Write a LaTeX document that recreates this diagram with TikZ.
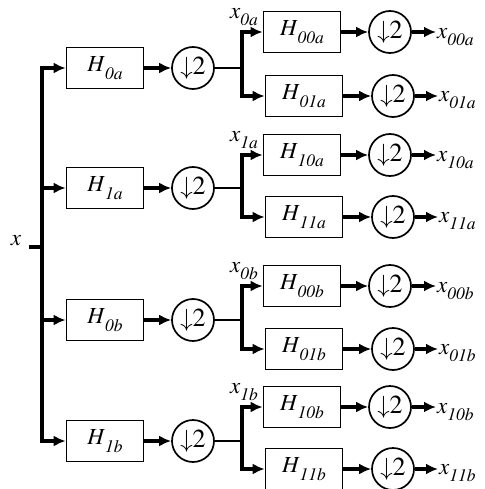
\documentclass[tikz,border=0pt]{standalone}
\usepackage{fontspec}
\setmainfont{texgyretermes}[Extension=.otf,UprightFont=*-regular,ItalicFont=*-italic,BoldFont=*-bold,BoldItalicFont=*-bolditalic]
\usetikzlibrary{arrows.meta}
\newcommand{\sig}[2]{\textit{#1}\raisebox{-7.5pt}{\fontsize{17.5}{18}\selectfont\itshape #2}}

\begin{document}
\begin{tikzpicture}[x=1pt,y=-1pt,
  filt/.style={draw,line width=1.7pt,minimum width=77pt,minimum height=41pt,inner sep=0pt,font=\fontsize{23}{26}\selectfont},
  dec/.style={draw,circle,line width=1.7pt,minimum size=42pt,inner sep=0pt,font=\fontsize{26}{28}\selectfont},
  arr/.style={line width=3.2pt,-{Latex[length=12pt,width=11pt]}},
  lbl/.style={font=\fontsize{23}{26}\selectfont,inner sep=1pt}]
  \useasboundingbox (0,0) rectangle (484,489);
  \node[lbl] (x) at (16,241) {\textit{x}};
  \coordinate (xs) at (29,247);
  \coordinate (t0) at (42,247);
  \draw[line width=3.2pt] (xs) -- (t0);
  \foreach \g/\y/\yu/\yd/\sa/\sb/\sc in {1/68/32/96/0a/00a/01a, 2/188/155/217/1a/10a/11a,
      3/320/286/349/0b/00b/01b, 4/441/407/469/1b/10b/11b}{
    \node[filt] (h\g) at (105,\y) {\sig{H}{\sa}};
    \node[dec] (d\g) at (193,\y) {$\downarrow$2};
    \coordinate (b\g) at (242,\y);
    \node[lbl] (xl\g) at (244,\yu-15) {\sig{x}{\sa}};
    \node[filt] (hu\g) at (302,\yu) {\sig{H}{\sb}};
    \node[filt] (hd\g) at (304,\yd) {\sig{H}{\sc}};
    \node[dec] (du\g) at (390,\yu) {$\downarrow$2};
    \node[dec] (dd\g) at (393,\yd) {$\downarrow$2};
    \node[lbl,anchor=west] (xu\g) at (436,\yu+5) {\sig{x}{\sb}};
    \node[lbl,anchor=west] (xd\g) at (438,\yd+4) {\sig{x}{\sc}};
    \draw[arr] (t0) |- (h\g);
    \draw[arr] (h\g) -- (d\g);
    \draw[line width=2.2pt] (d\g) -- (b\g);
    \draw[arr] (b\g) |- (hu\g);
    \draw[arr] (b\g) |- (hd\g);
    \draw[arr] (hu\g) -- (du\g);
    \draw[arr] (hd\g) -- (dd\g);
    \draw[arr] (du\g) -- (du\g -| xu\g.west);
    \draw[arr] (dd\g) -- (dd\g -| xd\g.west);
  }
\end{tikzpicture}
\end{document}
